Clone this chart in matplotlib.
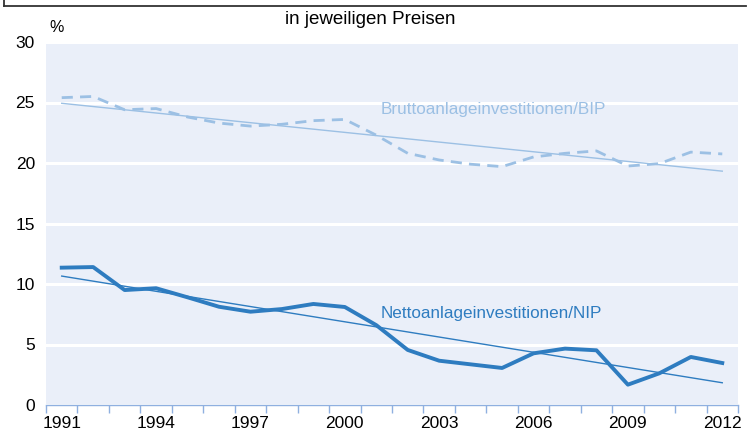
import numpy as np
import matplotlib.pyplot as plt
from matplotlib.lines import Line2D

plt.rcParams['font.family'] = ['Liberation Sans', 'DejaVu Sans']

years = list(range(1991, 2013))
brutto = [25.4, 25.5, 24.4, 24.5, 23.8, 23.3, 23.05, 23.2, 23.5, 23.6, 22.3,
          20.8, 20.25, 19.9, 19.7, 20.5, 20.8, 21.0, 19.75, 19.95, 20.9, 20.75]
netto = [11.35, 11.4, 9.5, 9.65, 8.9, 8.12, 7.71, 7.93, 8.35, 8.1, 6.6,
         4.55, 3.66, 3.36, 3.06, 4.27, 4.66, 4.52, 1.68, 2.62, 3.97, 3.47]
tick_years = [1991, 1994, 1997, 2000, 2003, 2006, 2009, 2012]

c_brutto = '#9cc0e4'
c_netto = '#2e7cc0'
bg = '#eaeff9'

fig = plt.figure(figsize=(7.47, 4.34), dpi=100)
ax = fig.add_axes([46 / 747, 1 - 405 / 434, 692 / 747, 363 / 434])
ax.set_facecolor(bg)

x = np.arange(len(years))

# trend lines (linear fit)
for vals, col in [(brutto, c_brutto), (netto, c_netto)]:
    k, d = np.polyfit(x, vals, 1)
    ax.plot(x, k * x + d, color=col, lw=1.0, zorder=3)

ax.plot(x, brutto, color=c_brutto, lw=2.0, ls=(0, (4, 2.6)), zorder=4)
ax.plot(x, netto, color=c_netto, lw=2.8, zorder=4)

ax.set_xlim(-0.5, len(years) - 0.5)
ax.set_ylim(0, 30)
ax.set_yticks(range(0, 31, 5))
ax.yaxis.grid(True, color='white', lw=2.2)
ax.set_axisbelow(True)
ax.tick_params(axis='y', length=0, labelsize=12.5, pad=8)

ax.set_xticks([years.index(y) for y in tick_years])
ax.set_xticklabels([str(y) for y in tick_years])
ax.set_xticks(np.arange(-0.5, len(years)), minor=True)
ax.tick_params(axis='x', which='major', length=0, labelsize=12.5, pad=8)
ax.tick_params(axis='x', which='minor', length=6, color='#8fb0e0', width=1)

for s in ['top', 'right', 'left']:
    ax.spines[s].set_visible(False)
ax.spines['bottom'].set_color('#8fb0e0')
ax.spines['bottom'].set_linewidth(1)

ax.text(10.15, 24.4, 'Bruttoanlageinvestitionen/BIP', color=c_brutto,
        fontsize=12.3, ha='left', va='center')
ax.text(10.15, 7.55, 'Nettoanlageinvestitionen/NIP', color=c_netto,
        fontsize=12.3, ha='left', va='center')

fig.text(370 / 747, 1 - 20 / 434, 'in jeweiligen Preisen', fontsize=13.5,
         ha='center', va='center')
fig.text(57 / 747, 1 - 27 / 434, '%', fontsize=11.5, ha='center', va='center')

# top border of the frame
fig.add_artist(Line2D([3.5 / 747, 746 / 747], [1 - 5.5 / 434, 1 - 5.5 / 434],
                      color='#333333', lw=1.3, transform=fig.transFigure))
fig.add_artist(Line2D([3.5 / 747, 3.5 / 747], [1 - 5.5 / 434, 1.0],
                      color='#333333', lw=1.3, transform=fig.transFigure))

fig.savefig('out.png', dpi=100)
